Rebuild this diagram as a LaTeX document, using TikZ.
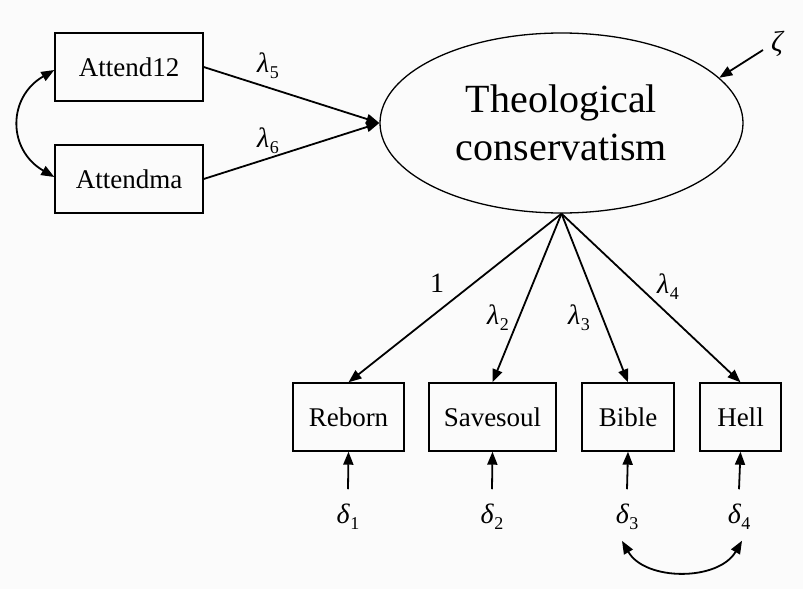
\documentclass[tikz,border=0pt]{standalone}
\usepackage{fontspec}
\setmainfont{Liberation Serif}
\usetikzlibrary{arrows.meta,shapes.geometric}
\definecolor{paper}{rgb}{0.985,0.985,0.985}
% italic Greek letter with a lowered upright index
\newcommand{\gk}[2]{{\itshape #1}\kern0.5pt\raisebox{-6.5pt}{\fontsize{18}{18}\selectfont #2}}
\tikzset{
  obs/.style={draw, line width=1.4pt, minimum height=68pt, inner sep=0pt,
              font=\fontsize{27}{30}\selectfont},
  lat/.style={draw, ellipse, line width=1.3pt, minimum width=363pt, minimum height=180pt,
              inner sep=0pt, align=center, font=\fontsize{40}{48}\selectfont},
  arr/.style={line width=1.8pt, -{Triangle[length=13pt,width=10pt]}},
  darr/.style={line width=1.8pt, {Triangle[length=13pt,width=10pt]}-{Triangle[length=13pt,width=10pt]}},
  lbl/.style={inner sep=0pt, anchor=base west, font=\fontsize{28}{30}\selectfont},
  err/.style={inner xsep=0pt, inner ysep=14pt, anchor=base, font=\fontsize{28}{32}\selectfont},
}
\begin{document}
\begin{tikzpicture}[x=1pt,y=-1pt]
  \fill[paper] (0,0) rectangle (803,589);
  \useasboundingbox (0,0) rectangle (803,589);

  % observed indicators
  \node[obs, minimum width=148pt] (a12) at (129,67) {Attend12};
  \node[obs, minimum width=148pt] (ama) at (129,179) {Attendma};
  \node[obs, minimum width=111pt] (reb) at (348.5,417) {Reborn};
  \node[obs, minimum width=127pt] (sav) at (492.5,417) {Savesoul};
  \node[obs, minimum width=92pt]  (bib) at (628,417) {Bible};
  \node[obs, minimum width=81pt]  (hel) at (740.5,417) {Hell};

  % latent factor
  \node[lat] (tc) at (561.5,123) {Theological\\conservatism};

  % disturbance
  \node[inner sep=0pt, font=\fontsize{29}{32}\selectfont\itshape] (zeta) at (777,44) {ζ};
  \coordinate (zs) at (763,50);
  \draw[arr] (zs) -- (tc.16);

  % causes of the factor
  \draw[arr] (a12.east) -- (tc.west);
  \draw[arr] (ama.east) -- (tc.west);
  \draw[darr] ([yshift=-3pt]a12.west) to[out=-150, in=150, looseness=1.3] ([yshift=2pt]ama.west);
  \node[lbl] (l5) at (257,72) {\gk{λ}{5}};
  \node[lbl] (l6) at (257,147) {\gk{λ}{6}};

  % loadings
  \draw[arr] (tc.south) -- (reb.north);
  \draw[arr] (tc.south) -- (sav.north);
  \draw[arr] (tc.south) -- (bib.north);
  \draw[arr] (tc.south) -- (hel.north);
  \node[lbl] (l1) at (430,292) {1};
  \node[lbl] (l2) at (487,324) {\gk{λ}{2}};
  \node[lbl] (l3) at (568,324) {\gk{λ}{3}};
  \node[lbl] (l4) at (657,293) {\gk{λ}{4}};

  % measurement errors
  \node[err] (d1) at (348,523) {\gk{δ}{1}};
  \node[err] (d2) at (492,523) {\gk{δ}{2}};
  \node[err] (d3) at (627,523) {\gk{δ}{3}};
  \node[err] (d4) at (739,523) {\gk{δ}{4}};
  \draw[arr] (d1.north) -- (reb.south);
  \draw[arr] (d2.north) -- (sav.south);
  \draw[arr] (d3.north) -- (bib.south);
  \draw[arr] (d4.north) -- (hel.south);
  \draw[darr] ([xshift=-5pt,yshift=3pt]d3.south) to[out=-60, in=-120] ([xshift=3pt,yshift=3pt]d4.south);
\end{tikzpicture}
\end{document}
